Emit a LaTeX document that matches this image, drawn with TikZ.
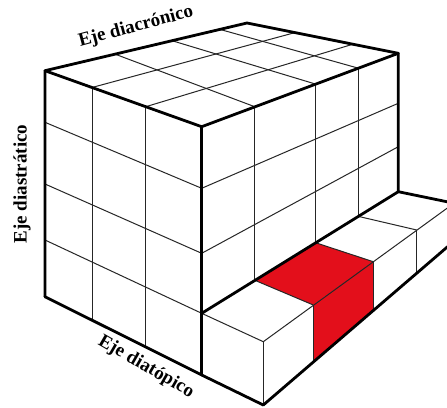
\documentclass[tikz,border=0pt]{standalone}
\usepackage{fontspec}
\setmainfont{Liberation Serif}
\usetikzlibrary{calc}
\definecolor{cubered}{HTML}{E30F1B}
\tikzset{
  thinline/.style={draw=black!85, line width=1pt},
  thickline/.style={draw=black, line width=2.8pt, line cap=round, line join=round},
  axislabel/.style={font=\bfseries\fontsize{19}{19}\selectfont, inner sep=0pt}
}
\begin{document}
\begin{tikzpicture}[x=1pt,y=-1pt]
\useasboundingbox (0,0) rectangle (447,407);
\clip (0,0) rectangle (447,407);
\fill[white] (0,0) rectangle (447,407);
% main cube corners
\coordinate (L) at (45,70.7);
\coordinate (F) at (201.7,126.7);
\coordinate (R) at (398.3,53.3);
\coordinate (B) at (247,23);
\coordinate (LB) at (45,296.7);
\coordinate (FB) at (201.7,375);
% step
\coordinate (P0) at (201.7,313.3);
\coordinate (P4) at (398.3,191.7);
\coordinate (P1) at ($(P0)!0.271!(P4)$);
\coordinate (P2) at ($(P0)!0.58!(P4)$);
\coordinate (P3) at ($(P0)!0.797!(P4)$);
\coordinate (Q0) at (263.3,341.7);
\coordinate (Q1) at (313.3,305);
\coordinate (Q2) at (373.3,261.7);
\coordinate (Q3) at (416.7,230);
\coordinate (Q4) at (454,203.2);
\coordinate (Q0b) at (263.3,405);
\coordinate (Q1b) at (313.3,362);
\coordinate (Q2b) at (373.3,310.5);
\coordinate (Q3b) at (416.7,273.3);
\coordinate (Q4b) at (454,241.2);
% red cell
\fill[cubered] (P1) -- (P2) -- (Q2) -- (Q1) -- cycle;
\fill[cubered] (Q1) -- (Q2) -- (Q2b) -- (Q1b) -- cycle;
% top face grid
\foreach \a/\b in {0.347/0.271, 0.629/0.58, 0.866/0.797}
  \draw[thinline] ($(L)!\a!(B)$) -- ($(F)!\b!(R)$);
\foreach \c/\d in {0.30/0.317, 0.643/0.70}
  \draw[thinline] ($(L)!\c!(F)$) -- ($(B)!\d!(R)$);
% left face grid
\foreach \c in {0.30, 0.643}
  \draw[thinline] ($(L)!\c!(F)$) -- ($(LB)!\c!(FB)$);
\foreach \yl/\yf in {122.3/188.3, 184/253.3, 240/313.3}
  \draw[thinline] (45,\yl) -- (201.7,\yf);
% right face grid
\foreach \b/\p in {0.271/P1, 0.58/P2, 0.797/P3}
  \draw[thinline] ($(F)!\b!(R)$) -- (\p);
\draw[thinline] (201.7,188.3) -- (398.3,103.3);
\draw[thinline] (201.7,253.3) -- (398.3,146.7);
% step thin lines
\draw[thinline] (P0) -- (Q0) -- (Q4);
\draw[thinline] (P1) -- (Q1);
\draw[thinline] (P2) -- (Q2);
\draw[thinline] (P3) -- (Q3);
\draw[thinline] (Q0) -- (Q0b);
\draw[thinline] (Q1) -- (Q1b);
\draw[thinline] (Q2) -- (Q2b);
\draw[thinline] (Q3) -- (Q3b);
% thick outlines
\draw[thickline] (LB) -- (L) -- (B) -- (R) -- (P4) -- (Q4);
\draw[thickline] (L) -- (F) -- (R);
\draw[thickline] (F) -- (FB);
\draw[thickline] (LB) -- (FB) -- (Q0b) -- (Q4b);
\draw[thickline] (P0) -- (P4);
% labels
\node[axislabel, rotate=15] (diacr) at (136,27) {Eje diacrónico};
\node[axislabel, rotate=-30] (diatop) at (146,367) {Eje diatópico};
\node[axislabel, rotate=90] (diastr) at (22,184) {Eje diastrático};
\end{tikzpicture}
\end{document}
